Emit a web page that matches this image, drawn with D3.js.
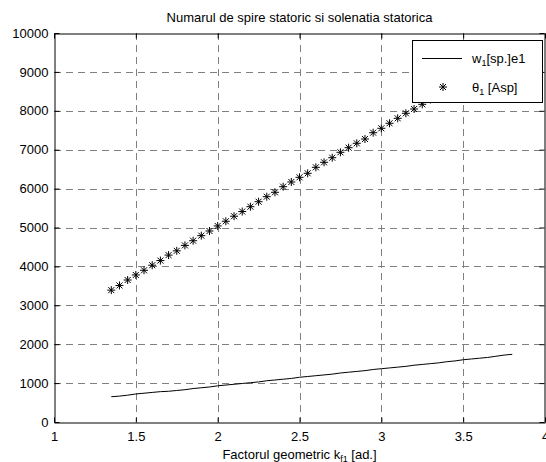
<!DOCTYPE html>
<html><head><meta charset="utf-8">
<script src="https://cdn.jsdelivr.net/npm/d3@7"></script>
<style>body{margin:0;background:#fff}svg{display:block}text{font-family:"Liberation Sans",Arial,sans-serif}</style>
</head><body>
<script>
const xValues = [1.35,1.40,1.45,1.50,1.55,1.60,1.65,1.70,1.75,1.80,1.85,1.90,1.95,2.00,2.05,2.10,2.15,2.20,2.25,2.30,2.35,2.40,2.45,2.50,2.55,2.60,2.65,2.70,2.75,2.80,2.85,2.90,2.95,3.00,3.05,3.10,3.15,3.20,3.25,3.30,3.35,3.40,3.45,3.50,3.55,3.60,3.65,3.70,3.75,3.80];
const w1Values = [650,665,690,720,740,760,780,790,810,830,860,880,900,930,950,970,990,1010,1030,1060,1080,1100,1120,1150,1170,1190,1210,1230,1260,1280,1300,1320,1350,1370,1390,1410,1430,1460,1480,1500,1520,1550,1570,1600,1620,1640,1660,1690,1720,1740];
const thetaValues = [3390,3510,3650,3780,3900,4030,4150,4290,4400,4540,4660,4790,4910,5040,5160,5290,5410,5535,5663,5792,5905,6049,6170,6290,6393,6547,6676,6794,6933,7051,7165,7275,7437,7550,7679,7807,7936,8046,8167,8290,8410,8540,8660,8790,8910,9040,9160,9290,9410,9540];
const xTicks = [1,1.5,2,2.5,3,3.5,4];
const yTicks = [0,1000,2000,3000,4000,5000,6000,7000,8000,9000,10000];

const W=546,H=462;
const m={l:54,r:545,t:33,b:422};
const svg=d3.select("body").append("svg").attr("width",W).attr("height",H);
const x=d3.scaleLinear().domain([1,4]).range([m.l,m.r]);
const y=d3.scaleLinear().domain([0,10000]).range([m.b,m.t]);

// grid
const g=svg.append("g");
g.selectAll(".gx").data(xTicks.slice(1,-1)).join("line")
 .attr("x1",d=>Math.round(x(d))+0.5).attr("x2",d=>Math.round(x(d))+0.5)
 .attr("y1",m.t).attr("y2",m.b).attr("stroke","#808080").attr("stroke-dasharray","7,5");
g.selectAll(".gy").data(yTicks.slice(1,-1)).join("line")
 .attr("y1",d=>Math.round(y(d))+0.5).attr("y2",d=>Math.round(y(d))+0.5)
 .attr("x1",m.l).attr("x2",m.r).attr("stroke","#808080").attr("stroke-dasharray","7,5");

// axes with inward ticks
const fs=13;
const ax=svg.append("g").attr("transform",`translate(0,${m.b+0.5})`)
 .call(d3.axisBottom(x).tickValues(xTicks).tickSizeInner(-5).tickSizeOuter(0).tickPadding(9).tickFormat(d3.format("")));
const ay=svg.append("g").attr("transform",`translate(${m.l+0.5},0)`)
 .call(d3.axisLeft(y).tickValues(yTicks).tickSizeInner(-5).tickSizeOuter(0).tickPadding(6).tickFormat(d3.format("")));
const at=svg.append("g").attr("transform",`translate(0,${m.t+0.5})`)
 .call(d3.axisTop(x).tickValues(xTicks).tickSizeInner(-5).tickSizeOuter(0).tickFormat(""));
const ar=svg.append("g").attr("transform",`translate(${m.r-0.5},0)`)
 .call(d3.axisRight(y).tickValues(yTicks).tickSizeInner(-5).tickSizeOuter(0).tickFormat(""));
[ax,ay,at,ar].forEach(a=>{a.selectAll("path").attr("stroke","#000");a.selectAll("line").attr("stroke","#000");
 a.selectAll("text").attr("font-size",fs).attr("fill","#000").style("font-family","Liberation Sans, Arial, sans-serif");});
ax.selectAll("text").attr("dy","0.71em");

// line w1
svg.append("path").datum(xValues.map((d,i)=>[d,w1Values[i]]))
 .attr("d",d3.line().x(d=>x(d[0])).y(d=>y(d[1])))
 .attr("fill","none").attr("stroke","#000").attr("stroke-width",1);

// star marker
function star(sel,cx,cy){
 const s=4,dd=3;
 sel.append("path").attr("d",`M${cx-s},${cy}H${cx+s}M${cx},${cy-s}V${cy+s}M${cx-dd},${cy-dd}L${cx+dd},${cy+dd}M${cx-dd},${cy+dd}L${cx+dd},${cy-dd}`)
  .attr("stroke","#000").attr("stroke-width",1).attr("fill","none");
}
const sg=svg.append("g");
xValues.forEach((d,i)=>star(sg,x(d),y(thetaValues[i])));

// title
svg.append("text").attr("x",(m.l+m.r)/2).attr("y",22).attr("text-anchor","middle").attr("font-size",fs).text("Numarul de spire statoric si solenatia statorica");
// x label
const xl=svg.append("text").attr("x",(m.l+m.r)/2).attr("y",459).attr("text-anchor","middle").attr("font-size",fs);
xl.append("tspan").text("Factorul geometric k");
xl.append("tspan").attr("font-size",9).attr("dy",3).text("f1");
xl.append("tspan").attr("dy",-3).text(" [ad.]");

// legend
const lg=svg.append("g");
lg.append("rect").attr("x",412.5).attr("y",40.5).attr("width",130).attr("height",62).attr("fill","#fff").attr("stroke","#000");
lg.append("line").attr("x1",422).attr("x2",462).attr("y1",58.5).attr("y2",58.5).attr("stroke","#000");
const t1=lg.append("text").attr("x",472).attr("y",63).attr("font-size",fs);
t1.append("tspan").text("w");t1.append("tspan").attr("font-size",9).attr("dy",3).text("1");t1.append("tspan").attr("dy",-3).text("[sp.]e1");
star(lg,443,87);
const t2=lg.append("text").attr("x",472).attr("y",92).attr("font-size",fs);
t2.append("tspan").text("θ");t2.append("tspan").attr("font-size",9).attr("dy",3).text("1");t2.append("tspan").attr("dy",-3).text(" [Asp]");
</script>
</body></html>
